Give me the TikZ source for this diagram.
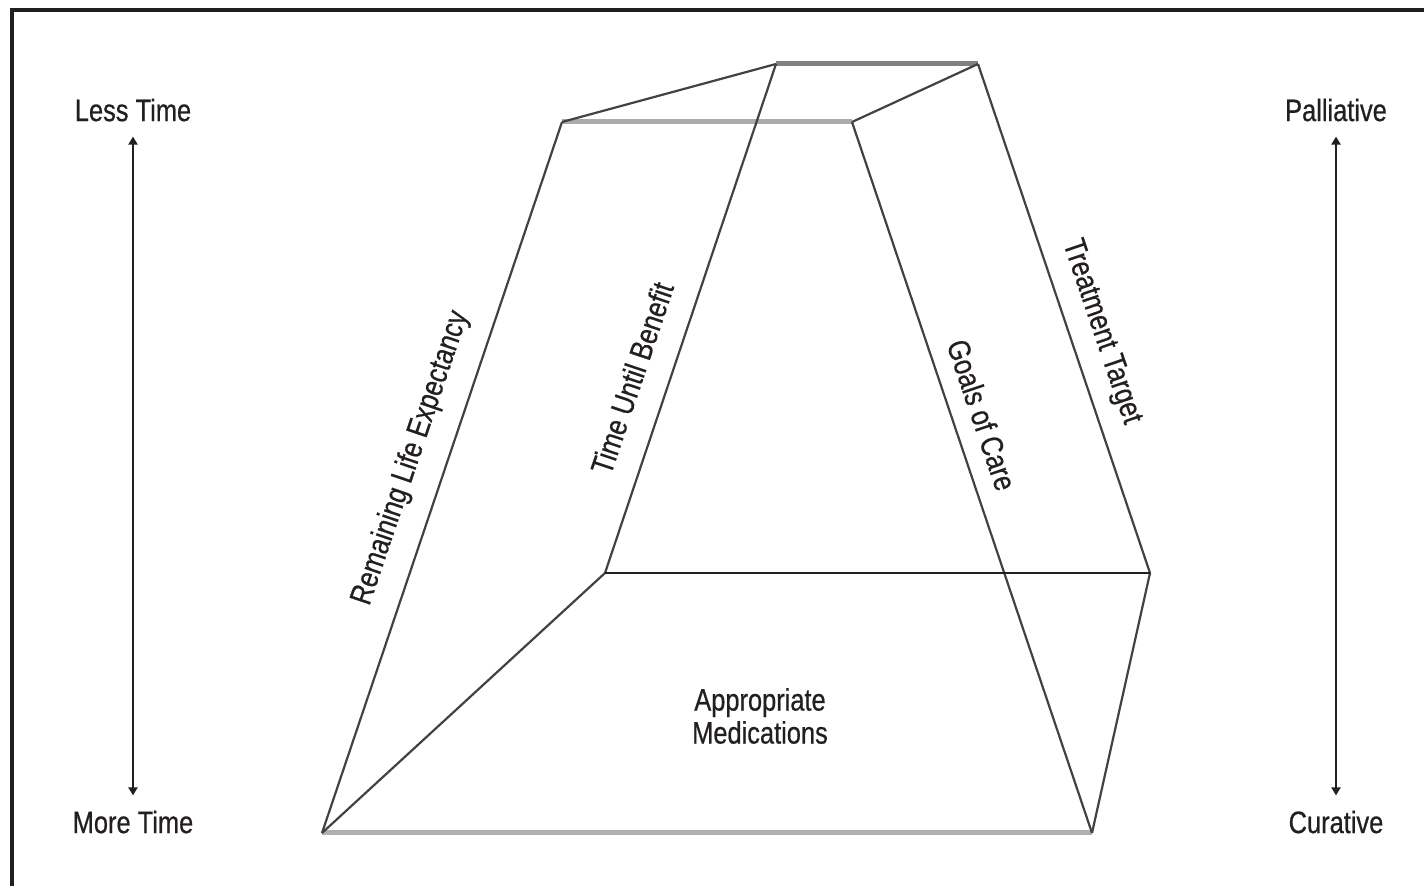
\documentclass[tikz,border=0pt]{standalone}
\usepackage{fontspec}
\setmainfont[FakeStretch=0.82,FakeBold=0.6]{Liberation Sans}
\usetikzlibrary{arrows.meta,calc}
\definecolor{ink}{HTML}{231F20}
\begin{document}
\begin{tikzpicture}[x=1pt,y=1pt,
  lbl/.style={font=\fontsize{31}{33}\selectfont, text=ink, inner sep=0pt},
  edge/.style={draw=ink!85, line width=2.2pt},
  rim/.style={line width=5pt},
  axis/.style={draw=ink, line width=2pt, {Triangle[width=9pt,length=8pt]}-{Triangle[width=9pt,length=8pt]}}]
\useasboundingbox (0,0) rectangle (1424,886);
% frame
\draw[ink, line width=4pt] (12,0) -- (12,876) -- (1424,876);
% corners of the solid
\coordinate (A) at (776,822);
\coordinate (B) at (978,822);
\coordinate (C) at (562,764);
\coordinate (D) at (852,764);
\coordinate (E) at (605,313);
\coordinate (F) at (1150,313);
\coordinate (G) at (322,53);
\coordinate (H) at (1092,53);
% grey rims
\draw[rim, draw=black!50] (A) -- (B);
\draw[rim, draw=black!33] (C) -- (D);
\draw[rim, draw=black!31] (G) -- (H);
% edges
\draw[edge] (C) -- (A);
\draw[edge] (D) -- (B);
\draw[edge] (A) -- (E);
\draw[edge] (B) -- (F);
\draw[edge] (C) -- (G);
\draw[edge] (D) -- (H);
\draw[edge] (E) -- (G);
\draw[edge] (F) -- (H);
\draw[ink, line width=2.5pt] (E) -- (F);
% side axes
\node[lbl] (lt) at (133,776) {Less Time};
\node[lbl] (mt) at (133,64) {More Time};
\node[lbl] (pa) at (1336,776) {Palliative};
\node[lbl] (cu) at (1336,64) {Curative};
\draw[axis] ($(lt.south)+(0,-15)$) -- ($(mt.north)+(0,15)$);
\draw[axis] ($(pa.south)+(0,-15)$) -- ($(cu.north)+(0,15)$);
% slanted labels
\node[lbl, rotate=71.3] (rle) at (411,428) {Remaining\ Life\ Expectancy};
\node[lbl, rotate=71.4] (tub) at (632,508) {Time\ Until\ Benefit};
\node[lbl, rotate=-71.3] (goc) at (982,471) {Goals\ of\ Care};
\node[lbl, rotate=-71.3] (tt) at (1101,554) {Treatment\ Target};
\node[lbl, align=center] (am) at (760,170) {Appropriate\\Medications};
\end{tikzpicture}
\end{document}
